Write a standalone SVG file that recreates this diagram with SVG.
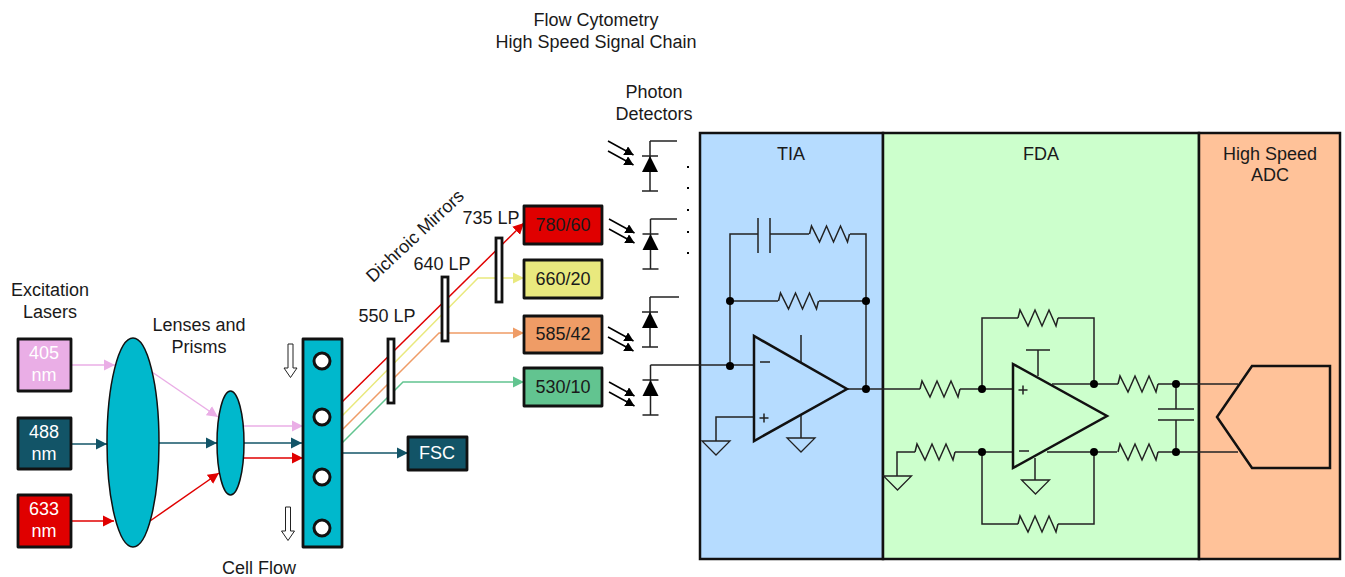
<svg xmlns="http://www.w3.org/2000/svg" width="1345" height="577" viewBox="0 0 1345 577">
<style>
text{font-family:"Liberation Sans",Arial,sans-serif;font-size:18px;fill:#1a1a1a;text-anchor:middle}
.w{fill:#fff}
.box{stroke:#111;stroke-width:2.800;stroke-linejoin:round}
.w1{fill:none;stroke:#222;stroke-width:1.500}
.w2{fill:none;stroke:#111;stroke-width:2.500;stroke-linejoin:miter}
.pink{fill:none;stroke:#eaaee6;stroke-width:1.500}
.teal{fill:none;stroke:#125467;stroke-width:1.500}
.red{fill:none;stroke:#e00000;stroke-width:1.500}
.yel{fill:none;stroke:#e9e97e;stroke-width:1.500}
.org{fill:none;stroke:#ef9c66;stroke-width:1.500}
.grn{fill:none;stroke:#62c490;stroke-width:1.500}
.dot{fill:#000}
.ph{fill:none;stroke:#000;stroke-width:1.500}
.gnd{fill:none;stroke:#222;stroke-width:1.300}
.mir{fill:#fff;stroke:#111;stroke-width:2.800}
</style>
<defs>
<marker id="mp" markerUnits="userSpaceOnUse" markerWidth="12" markerHeight="12" refX="11" refY="6" orient="auto"><path d="M0 .5L11 6 0 11.500z" fill="#eaaee6"/></marker>
<marker id="mt" markerUnits="userSpaceOnUse" markerWidth="12" markerHeight="12" refX="11" refY="6" orient="auto"><path d="M0 .5L11 6 0 11.500z" fill="#125467"/></marker>
<marker id="mr" markerUnits="userSpaceOnUse" markerWidth="12" markerHeight="12" refX="11" refY="6" orient="auto"><path d="M0 .5L11 6 0 11.500z" fill="#e00000"/></marker>
<marker id="my" markerUnits="userSpaceOnUse" markerWidth="12" markerHeight="12" refX="11" refY="6" orient="auto"><path d="M0 .5L11 6 0 11.500z" fill="#e9e97e"/></marker>
<marker id="mo" markerUnits="userSpaceOnUse" markerWidth="12" markerHeight="12" refX="11" refY="6" orient="auto"><path d="M0 .5L11 6 0 11.500z" fill="#ef9c66"/></marker>
<marker id="mg" markerUnits="userSpaceOnUse" markerWidth="12" markerHeight="12" refX="11" refY="6" orient="auto"><path d="M0 .5L11 6 0 11.500z" fill="#62c490"/></marker>
<marker id="mk" markerUnits="userSpaceOnUse" markerWidth="10" markerHeight="10" refX="9" refY="5" orient="auto"><path d="M0 0L9 5 0 10z" fill="#000"/></marker>
<path id="res" class="w1" d="M0 0l2-8 8 16 7-16 7 16 7-16 7 16 2-8"/>
<path id="gnd" class="gnd" d="M-14 0H14L0 14z"/>
<path id="darrow" d="M-2.500 0H2.500V24H6.500L0 33.500-6.500 24H-2.500z" fill="#fff" stroke="#222" stroke-width="1"/>
<g id="diode"><path class="w1" d="M0 0V50M-8 15H8M-8 50H8"/><path d="M0 15L8 31H-8z" fill="#000"/></g>
<g id="photo"><path class="ph" d="M0 0L25.500 14" marker-end="url(#mk)"/><path class="ph" d="M0 10L25.500 24" marker-end="url(#mk)"/></g>
</defs>

<g id="title"><text x="596" y="26">Flow Cytometry</text><text x="596" y="48">High Speed Signal Chain</text></g>

<g id="panel-tia"><rect x="700" y="133" width="183" height="426" fill="#b6dcff" stroke="#111" stroke-width="2.500"/><text x="791" y="160">TIA</text></g>
<g id="panel-fda"><rect x="883" y="133" width="316" height="426" fill="#ccffcc" stroke="#111" stroke-width="2.500"/><text x="1041" y="160">FDA</text></g>
<g id="panel-adc"><rect x="1199" y="133" width="141" height="426" fill="#ffc299" stroke="#111" stroke-width="2.500"/><text x="1270" y="160">High Speed</text><text x="1270" y="181">ADC</text></g>

<g id="connectors">
<path class="pink" d="M70 365H115" marker-end="url(#mp)"/>
<path class="pink" d="M152 372L218 417" marker-end="url(#mp)"/>
<path class="pink" d="M243 426H303" marker-end="url(#mp)"/>
<path class="teal" d="M71 444H107" marker-end="url(#mt)"/>
<path class="teal" d="M159 443H217" marker-end="url(#mt)"/>
<path class="teal" d="M244 443H302" marker-end="url(#mt)"/>
<path class="red" d="M71 521H114" marker-end="url(#mr)"/>
<path class="red" d="M150 521L219 473" marker-end="url(#mr)"/>
<path class="red" d="M243 458H303" marker-end="url(#mr)"/>
<path class="red" d="M342 402L524 223" marker-end="url(#mr)"/>
<path class="yel" d="M342 416L478 278H524" marker-end="url(#my)"/>
<path class="org" d="M342 430L439 333H524" marker-end="url(#mo)"/>
<path class="grn" d="M342 443L403 382H524" marker-end="url(#mg)"/>
<path class="teal" d="M342 453H408" marker-end="url(#mt)"/>
</g>

<g id="laser-405"><rect class="box" x="18" y="339" width="53" height="52" fill="#eaaee6"/><text class="w" x="44" y="359">405</text><text class="w" x="44" y="381">nm</text></g>
<g id="laser-488"><rect class="box" x="18" y="418" width="53" height="51" fill="#125467"/><text class="w" x="44" y="438">488</text><text class="w" x="44" y="460">nm</text></g>
<g id="laser-633"><rect class="box" x="18" y="495" width="53" height="52" fill="#e00000"/><text class="w" x="44" y="515">633</text><text class="w" x="44" y="537">nm</text></g>
<g id="laser-label"><text x="50" y="296">Excitation</text><text x="50" y="318">Lasers</text></g>

<g id="lens-large"><ellipse cx="133" cy="442.500" rx="26" ry="104.500" fill="#00b8cc" stroke="#111" stroke-width="1.500"/></g>
<g id="lens-small"><ellipse cx="230.500" cy="443" rx="13.500" ry="52" fill="#00b8cc" stroke="#111" stroke-width="1.500"/></g>
<g id="lens-label"><text x="199" y="331">Lenses and</text><text x="199" y="353">Prisms</text></g>

<g id="flow-cell">
<rect class="box" x="303" y="339" width="39" height="208" fill="#00b8cc"/>
<g fill="#fff" stroke="#111" stroke-width="3"><circle cx="322" cy="361" r="8"/><circle cx="322" cy="417" r="8"/><circle cx="322" cy="477" r="8"/><circle cx="322" cy="528" r="8"/></g>
<use href="#darrow" x="290.500" y="344"/><use href="#darrow" x="288" y="507"/>
<text x="259" y="574">Cell Flow</text>
</g>

<g id="mirror-550"><rect class="mir" x="388" y="339" width="6" height="64"/><text x="387" y="322">550 LP</text></g>
<g id="mirror-640"><rect class="mir" x="442" y="277" width="6" height="64"/><text x="442" y="270">640 LP</text></g>
<g id="mirror-735"><rect class="mir" x="496" y="238" width="6" height="64"/><text x="491" y="224">735 LP</text></g>
<g id="mirror-label"><text x="415" y="242" transform="rotate(-43 415 236)">Dichroic Mirrors</text></g>

<g id="filter-780"><rect class="box" x="524" y="206" width="78" height="38" fill="#e00000"/><text x="563" y="231">780/60</text></g>
<g id="filter-660"><rect class="box" x="524" y="260" width="78" height="38" fill="#e9e97e"/><text x="563" y="285">660/20</text></g>
<g id="filter-585"><rect class="box" x="524" y="316" width="78" height="37" fill="#ef9c66"/><text x="563" y="340">585/42</text></g>
<g id="filter-530"><rect class="box" x="524" y="368" width="78" height="38" fill="#62c490"/><text x="563" y="393">530/10</text></g>
<g id="fsc"><rect class="box" x="408" y="437" width="59" height="33" fill="#125467"/><text class="w" x="437" y="459">FSC</text></g>

<g id="detector-label"><text x="654" y="98">Photon</text><text x="654" y="120">Detectors</text></g>
<g id="detector-1"><use href="#diode" x="650" y="141"/><path class="w1" d="M650 141H677"/><use href="#photo" x="608" y="141"/></g>
<g id="detector-2"><use href="#diode" x="650.500" y="219"/><path class="w1" d="M650.500 219H677"/><use href="#photo" x="609" y="219"/></g>
<g id="detector-3"><use href="#diode" x="650" y="297"/><path class="w1" d="M650 297H679"/><use href="#photo" x="608" y="327"/></g>
<g id="detector-4"><use href="#diode" x="650.500" y="365"/><path class="w1" d="M650.500 365H754"/><use href="#photo" x="609" y="382"/></g>
<g id="dots" class="dot"><rect x="687" y="166" width="2" height="2"/><rect x="687" y="187" width="2" height="2"/><rect x="687" y="209" width="2" height="2"/><rect x="687" y="231" width="2" height="2"/><rect x="687" y="252" width="2" height="2"/></g>

<g id="tia-circuit">
<path class="w1" d="M730 366V234H758M770 234H809M850 234H866V389M730 301H778M819 301H866M847 389H883M754 417H716V441M801 335V362M801 415V438"/>
<path class="w1" d="M758 218V253M770 218V253"/>
<use href="#res" x="809.500" y="234"/><use href="#res" x="778.500" y="301"/>
<path class="w2" d="M754 336V441L847 389z"/>
<use href="#gnd" x="716" y="441"/><use href="#gnd" x="801" y="438"/>
<g class="dot"><circle cx="730" cy="301" r="4"/><circle cx="866" cy="301" r="4"/><circle cx="730" cy="366" r="4"/><circle cx="866" cy="389" r="4"/></g>
<path class="w1" d="M760 362H770M759.500 418H768.500M764 413.500V422.500"/>
</g>

<g id="fda-circuit">
<path class="w1" d="M883 389H920M960 389H1013M982 389V318H1018M1058 318H1094V384M1052 384H1118M1158 384H1238M897 476V452H915M955 452H1013M1047 452H1117M1158 452H1238M982 452V524H1018M1058 524H1094V452M1038 350V376M1026 350H1050M1035 458V480M1176 384V409M1176 420V452M1158 409H1194M1158 420H1194"/>
<use href="#res" x="920" y="389"/><use href="#res" x="1018" y="318"/><use href="#res" x="1118" y="384"/><use href="#res" x="915" y="452"/><use href="#res" x="1118" y="452"/><use href="#res" x="1018" y="524"/>
<path class="w2" d="M1013 364V468L1107 416z"/>
<use href="#gnd" x="897.500" y="476"/><use href="#gnd" x="1035.500" y="480"/>
<g class="dot"><circle cx="982" cy="389" r="4"/><circle cx="1094" cy="384" r="4"/><circle cx="1176" cy="384" r="4"/><circle cx="982" cy="452" r="4"/><circle cx="1094" cy="452" r="4"/><circle cx="1176" cy="452" r="4"/></g>
<path class="w1" d="M1018.500 390H1027.500M1023 385.500V394.500M1019 451H1029"/>
</g>

<g id="adc-symbol"><path class="w2" d="M1252 366H1330V468H1252L1217 417z"/></g>
</svg>
